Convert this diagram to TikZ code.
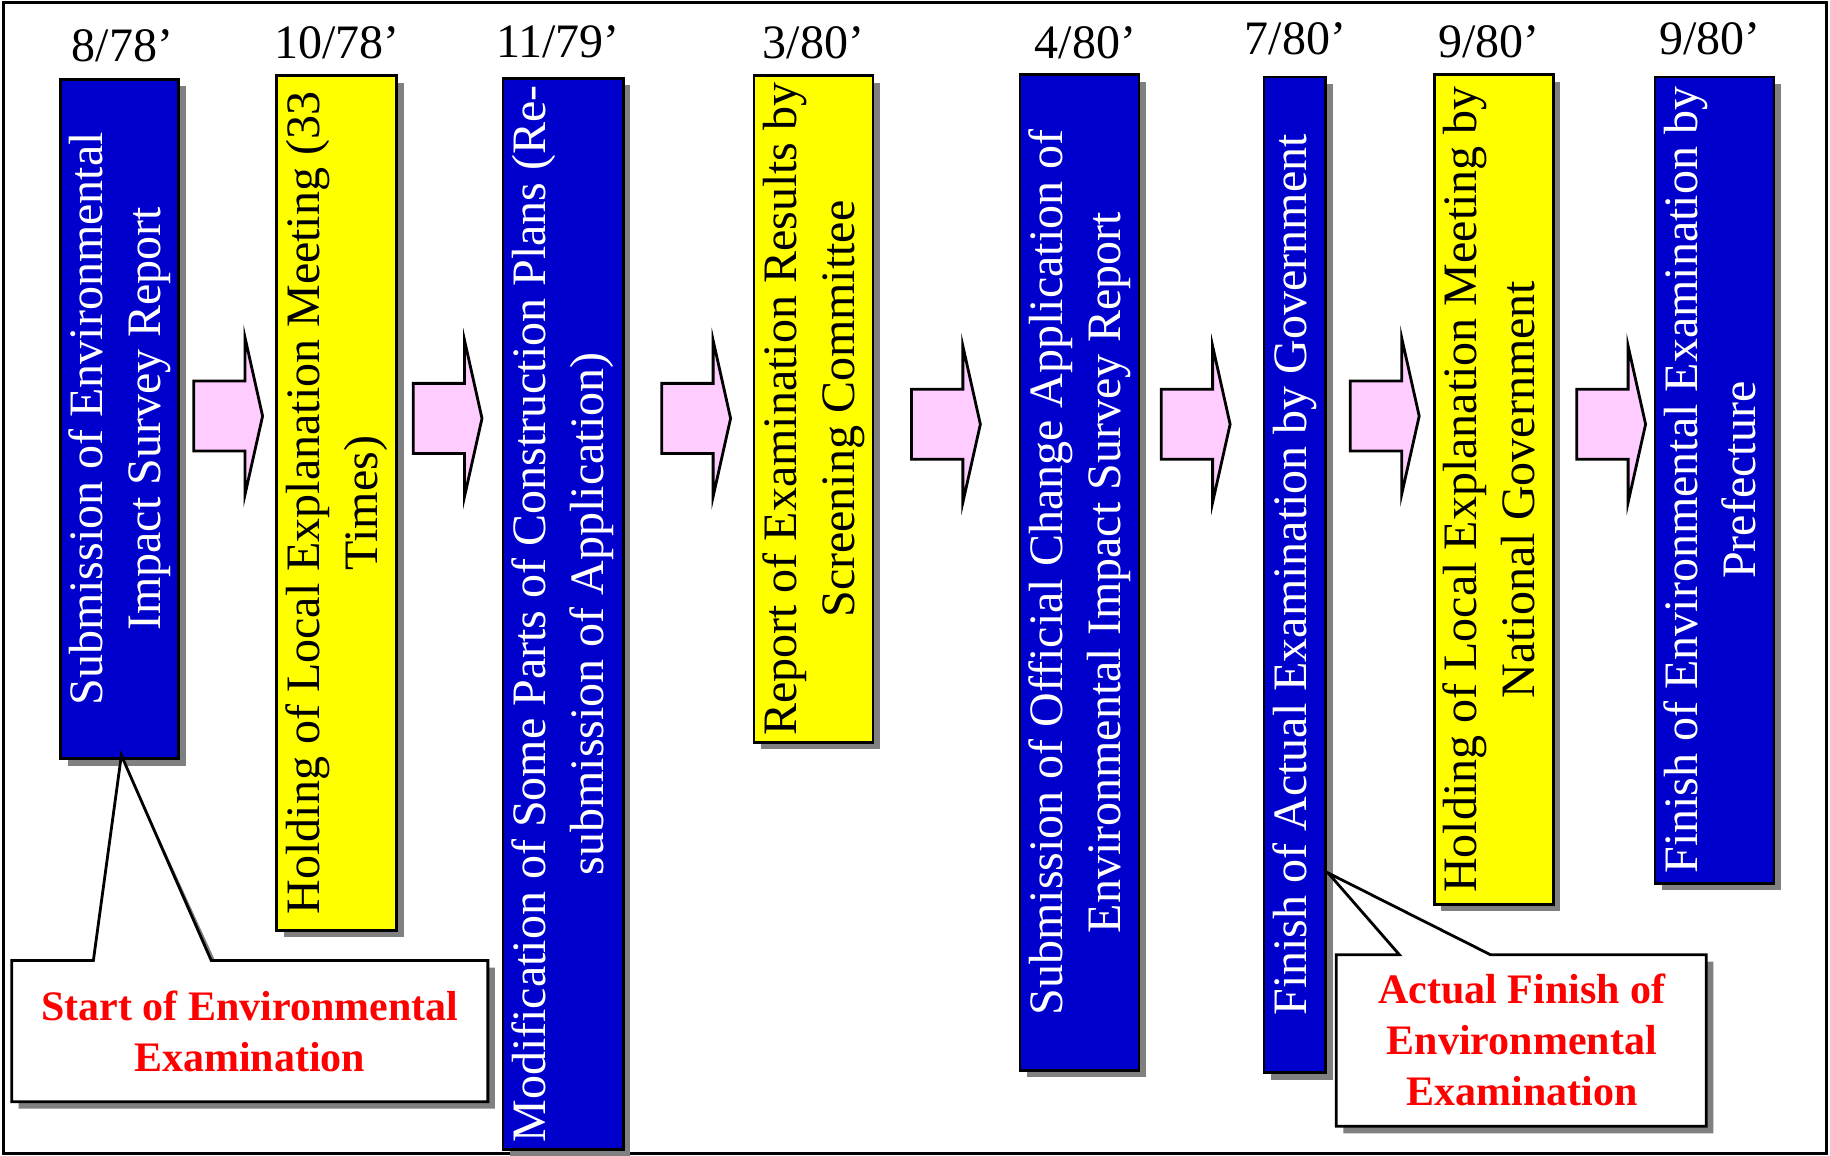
\documentclass[tikz,border=0pt]{standalone}
\usepackage{fontspec}
\setmainfont{Liberation Serif}
\usetikzlibrary{shadows,backgrounds}

\definecolor{stepblue}{HTML}{0000CC}
\definecolor{stepyellow}{HTML}{FFFF00}
\definecolor{arrowpink}{HTML}{FFCCFF}
\definecolor{shadowgray}{HTML}{808080}
\definecolor{notered}{HTML}{FF0000}

% text set bottom-to-top inside the tall step boxes
\newcommand{\vtext}[1]{\rotatebox{90}{\begin{tabular}{@{}c@{}}#1\end{tabular}}}

\tikzset{
  stepbox/.style={draw=black, line width=1.4pt, inner sep=0pt,
    font=\fontsize{24}{29}\selectfont,
    drop shadow={shadow xshift=3.5pt, shadow yshift=-3.5pt, fill=shadowgray, opacity=1}},
  bluebox/.style={stepbox, fill=stepblue, text=white},
  yellowbox/.style={stepbox, fill=stepyellow, text=black},
  boxsize/.style 2 args={minimum width=#1, minimum height=#2},
  datelabel/.style={font=\fontsize{24}{29}\selectfont, inner sep=0pt},
  flowarrow/.style={draw=black, line width=1.4pt, fill=arrowpink, line join=miter},
  calloutshape/.style={draw=black, line width=1.4pt, fill=white, line join=miter},
  calloutshadow/.style={fill=shadowgray},
  callouttext/.style={font=\fontsize{21}{25.5}\selectfont\bfseries, text=notered,
    align=center, inner sep=0pt},
  pics/blockarrow/.style={code={
    \path[flowarrow] (-29.5,-30) -- (14.5,-30) -- (14.5,-67) -- (29.5,0)
      -- (14.5,67) -- (14.5,30) -- (-29.5,30) -- cycle;}}
}

\begin{document}
\begin{tikzpicture}[x=0.58355pt, y=-0.58355pt]
  \useasboundingbox (0,0) rectangle (1568,990);
  \draw[line width=1.2pt] (3,2) rectangle (1565,988.5);

  % dates
  \node[datelabel] (d1) at (105,39)  {8/78’};
  \node[datelabel] (d2) at (289,37)  {10/78’};
  \node[datelabel] (d3) at (478,35.5){11/79’};
  \node[datelabel] (d4) at (697,37)  {3/80’};
  \node[datelabel] (d5) at (930,37)  {4/80’};
  \node[datelabel] (d6) at (1110,33) {7/80’};
  \node[datelabel] (d7) at (1276,35.5){9/80’};
  \node[datelabel] (d8) at (1465,33.5){9/80’};

  % steps
  \node[bluebox,   boxsize={58.94pt}{339.63pt}] (b1) at (102.5,359)
    {\vtext{Submission of Environmental\\Impact Survey Report}};
  \node[yellowbox, boxsize={60.11pt}{427.16pt}] (b2) at (288.5,431)
    {\vtext{Holding of Local Explanation Meeting (33\\Times)}};
  \node[bluebox,   boxsize={60.11pt}{535.70pt}] (b3) at (482.5,526)
    {\vtext{Modification of Some Parts of Construction Plans (Re-\\submission of Application)}};
  \node[yellowbox, boxsize={59.52pt}{333.21pt}] (b4) at (697,350.5)
    {\vtext{Report of Examination Results by\\Screening Committee}};
  \node[bluebox,   boxsize={59.52pt}{497.77pt}] (b5) at (925,490.5)
    {\vtext{Submission of Official Change Application of\\Environmental Impact Survey Report}};
  \node[bluebox,   boxsize={30.93pt}{497.77pt}] (b6) at (1109.5,492.5)
    {\vtext{Finish of Actual Examination by Government}};
  \node[yellowbox, boxsize={59.52pt}{414.90pt}] (b7) at (1280,419.5)
    {\vtext{Holding of Local Explanation Meeting by\\National Government}};
  \node[bluebox,   boxsize={59.52pt}{403.23pt}] (b8) at (1469,411.5)
    {\vtext{Finish of Environmental Examination by\\Prefecture}};

  % block arrows between the steps
  \pic at (195.5,356.5)  {blockarrow};
  \pic at (383.5,358.5)  {blockarrow};
  \pic at (596.5,358.5)  {blockarrow};
  \pic at (810.5,363.5)  {blockarrow};
  \pic at (1024.5,363.5) {blockarrow};
  \pic at (1186.5,356.5) {blockarrow};
  \pic at (1380.5,363.5) {blockarrow};

  % callouts
  \coordinate (tip1) at ([shift={(1.5,-4)}]b1.south);
  \coordinate (tip2) at (1138,748);
  \begin{scope}[on background layer]
    \fill[calloutshadow, shift={(6,6)}] (10,823) -- (80,823) -- (tip1) -- (181,823)
      -- (418,823) -- (418,944) -- (10,944) -- cycle;
    \fill[calloutshadow, shift={(6,6)}] (1145,818) -- (1199,818) -- (tip2) -- (1277,818)
      -- (1462,818) -- (1462,965) -- (1145,965) -- cycle;
  \end{scope}
  \path[calloutshape] (10,823) -- (80,823) -- (tip1) -- (181,823)
    -- (418,823) -- (418,944) -- (10,944) -- cycle;
  \path[calloutshape] (1145,818) -- (1199,818) -- (tip2) -- (1277,818)
    -- (1462,818) -- (1462,965) -- (1145,965) -- cycle;

  \node[callouttext] (c1) at (214,884) {Start of Environmental\\Examination};
  \node[callouttext] (c2) at (1304,891) {Actual Finish of\\Environmental\\Examination};
\end{tikzpicture}
\end{document}
